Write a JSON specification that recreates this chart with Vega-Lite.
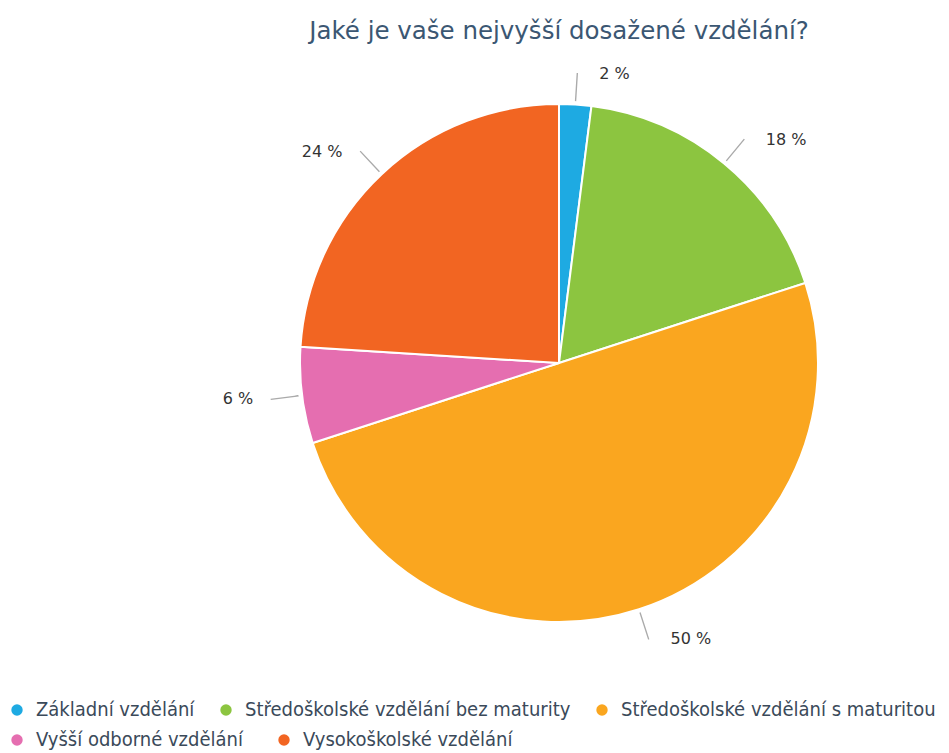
{
  "$schema": "https://vega.github.io/schema/vega-lite/v6.json",
  "autosize": "none",
  "width": 600,
  "height": 600,
  "padding": {"left": 259, "top": 63, "right": 90, "bottom": 90},
  "background": "white",
  "title": {
    "text": "Jaké je vaše nejvyšší dosažené vzdělání?",
    "font": "DejaVu Sans",
    "fontSize": 24.5,
    "fontWeight": "normal",
    "color": "#3b5773",
    "anchor": "middle",
    "offset": 19
  },
  "config": {
    "view": {"stroke": null},
    "legend": {
      "title": null,
      "orient": "none",
      "direction": "horizontal",
      "symbolType": "circle",
      "symbolSize": 130,
      "symbolStrokeWidth": 0,
      "labelFont": "DejaVu Sans Condensed",
      "labelFontSize": 20,
      "labelColor": "#3b4a5a",
      "labelLimit": 500,
      "labelOffset": 9
    }
  },
  "data": {
    "values": [
      {"kategorie": "Základní vzdělání", "podil": 2, "poradi": 1, "radek": 1, "stitek": "2 %"},
      {"kategorie": "Středoškolské vzdělání bez maturity", "podil": 18, "poradi": 2, "radek": 1, "stitek": "18 %"},
      {"kategorie": "Středoškolské vzdělání s maturitou", "podil": 50, "poradi": 3, "radek": 1, "stitek": "50 %"},
      {"kategorie": "Vyšší odborné vzdělání", "podil": 6, "poradi": 4, "radek": 2, "stitek": "6 %"},
      {"kategorie": "Vysokoškolské vzdělání", "podil": 24, "poradi": 5, "radek": 2, "stitek": "24 %"}
    ]
  },
  "transform": [
    {"stack": "podil", "groupby": [], "sort": [{"field": "poradi", "order": "ascending"}], "as": ["v0", "v1"]},
    {"calculate": "(datum.v0 + datum.v1) / 2", "as": "mid"},
    {"calculate": "datum.mid + 0.01", "as": "mid2"},
    {"calculate": "datum.mid < 50 ? 'R' : 'L'", "as": "strana"}
  ],
  "layer": [
    {
      "transform": [{"filter": "datum.radek == 1"}],
      "mark": {"type": "arc", "radius": 259, "stroke": "white", "strokeWidth": 2},
      "encoding": {
        "theta": {"field": "v0", "type": "quantitative", "scale": {"domain": [0, 100], "range": [0, 6.283185307]}},
        "theta2": {"field": "v1"},
        "color": {
          "field": "kategorie",
          "type": "nominal",
          "scale": {
            "domain": ["Základní vzdělání", "Středoškolské vzdělání bez maturity", "Středoškolské vzdělání s maturitou"],
            "range": ["#1eaae2", "#8cc540", "#faa61f"]
          },
          "legend": {"legendX": -252, "legendY": 637, "columnPadding": 21}
        }
      }
    },
    {
      "transform": [{"filter": "datum.radek == 2"}],
      "mark": {"type": "arc", "radius": 259, "stroke": "white", "strokeWidth": 2},
      "encoding": {
        "theta": {"field": "v0", "type": "quantitative", "scale": {"domain": [0, 100], "range": [0, 6.283185307]}},
        "theta2": {"field": "v1"},
        "fill": {
          "field": "kategorie",
          "type": "nominal",
          "scale": {
            "domain": ["Vyšší odborné vzdělání", "Vysokoškolské vzdělání"],
            "range": ["#e56eb0", "#f26522"]
          },
          "legend": {"legendX": -252, "legendY": 667, "columnPadding": 31}
        }
      }
    },
    {
      "mark": {"type": "arc", "innerRadius": 263, "outerRadius": 290, "stroke": "#aaaaaa", "strokeWidth": 1.2, "fill": null},
      "encoding": {
        "theta": {"field": "mid", "type": "quantitative", "scale": {"domain": [0, 100], "range": [0, 6.283185307]}},
        "theta2": {"field": "mid2"}
      }
    },
    {
      "transform": [{"filter": "datum.strana == 'R'"}],
      "mark": {"type": "text", "radius": 290, "align": "left", "baseline": "middle", "dx": 22, "font": "DejaVu Sans", "fontSize": 16, "color": "#333333"},
      "encoding": {
        "theta": {"field": "mid", "type": "quantitative", "stack": null, "scale": {"domain": [0, 100], "range": [0, 6.283185307]}},
        "text": {"field": "stitek"}
      }
    },
    {
      "transform": [{"filter": "datum.strana == 'L'"}],
      "mark": {"type": "text", "radius": 290, "align": "right", "baseline": "middle", "dx": -18, "font": "DejaVu Sans", "fontSize": 16, "color": "#333333"},
      "encoding": {
        "theta": {"field": "mid", "type": "quantitative", "stack": null, "scale": {"domain": [0, 100], "range": [0, 6.283185307]}},
        "text": {"field": "stitek"}
      }
    }
  ],
  "resolve": {"scale": {"color": "independent", "fill": "independent"}, "legend": {"color": "independent", "fill": "independent"}}
}
